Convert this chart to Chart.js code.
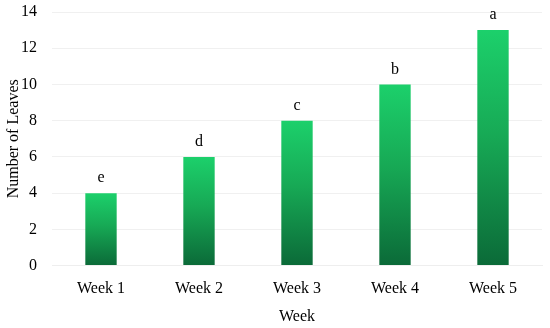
<!DOCTYPE html>
<html>
<head>
<meta charset="utf-8">
<script src="https://cdn.jsdelivr.net/npm/chart.js@4"></script>
<style>
  html, body { margin: 0; padding: 0; background: #fff; }
  #wrap { width: 550px; height: 328px; }
</style>
</head>
<body>
<div id="wrap"><canvas id="myChart" width="550" height="328"></canvas></div>
<script>
  const weeks = ["Week 1", "Week 2", "Week 3", "Week 4", "Week 5"];
  const leaves = [4, 6, 8, 10, 13];
  const letters = ["e", "d", "c", "b", "a"];

  const font = "'Liberation Serif', 'Times New Roman', serif";

  // each bar gets its own light-top / dark-bottom gradient
  function barGradient(context) {
    const chart = context.chart;
    const yScale = chart.scales.y;
    if (!chart.chartArea || !yScale || context.parsed == null) return "#17b85e";
    const top = yScale.getPixelForValue(context.parsed.y);
    const bottom = yScale.getPixelForValue(0);
    if (!isFinite(top) || !isFinite(bottom) || top === bottom) return "#17b85e";
    const g = chart.ctx.createLinearGradient(0, top, 0, bottom);
    g.addColorStop(0, "#1cd06b");
    g.addColorStop(0.45, "#17a955");
    g.addColorStop(1, "#0b6a38");
    return g;
  }

  const letterPlugin = {
    id: "letters",
    afterDatasetsDraw(chart) {
      const ctx = chart.ctx;
      const meta = chart.getDatasetMeta(0);
      ctx.save();
      ctx.font = "16px " + font;
      ctx.fillStyle = "#000";
      ctx.textAlign = "center";
      ctx.textBaseline = "bottom";
      meta.data.forEach(function (bar, i) {
        ctx.fillText(letters[i], bar.x, bar.y - 7);
      });
      ctx.restore();
    }
  };

  const ctx = document.getElementById("myChart").getContext("2d");
  new Chart(ctx, {
    type: "bar",
    data: {
      labels: weeks,
      datasets: [{
        data: leaves,
        backgroundColor: barGradient,
        borderWidth: 0,
        categoryPercentage: 1,
        barPercentage: 0.32
      }]
    },
    options: {
      responsive: false,
      animation: false,
      layout: { padding: { top: 12, right: 8, left: 4, bottom: 2 } },
      plugins: {
        legend: { display: false },
        tooltip: { enabled: false }
      },
      scales: {
        x: {
          grid: { display: false },
          border: { display: true, color: "#eeeeee" },
          ticks: { color: "#000", font: { family: font, size: 16 }, padding: 6 },
          title: { display: true, text: "Week", color: "#000", font: { family: font, size: 16 }, padding: { top: 2, bottom: 0 } }
        },
        y: {
          min: 0,
          max: 14,
          afterFit(scale) {
            scale.width = 48;
            scale.paddingTop = 0;
          },
          ticks: { stepSize: 2, color: "#000", font: { family: font, size: 16 }, padding: 15 },
          grid: { color: "#f0f0f0", drawTicks: false },
          border: { display: false },
          title: { display: true, text: "Number of Leaves", color: "#000", font: { family: font, size: 16 }, padding: { top: 0, bottom: 0 } }
        }
      }
    },
    plugins: [letterPlugin]
  });
</script>
</body>
</html>
